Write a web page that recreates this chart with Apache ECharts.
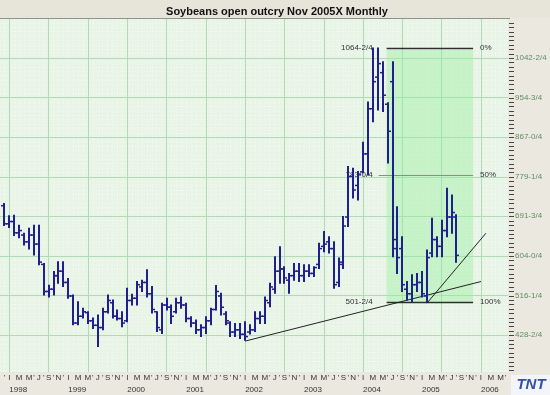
<!DOCTYPE html>
<html><head><meta charset="utf-8">
<script src="https://cdn.jsdelivr.net/npm/echarts@6/dist/echarts.min.js"></script>
<style>html,body{margin:0;padding:0;background:#ebe8df}#c{width:550px;height:395px}</style>
</head><body><div id="c"></div>
<script>
// ---- data ----
const months = ['1997-12',
 '1998-01','1998-02','1998-03','1998-04','1998-05','1998-06','1998-07','1998-08','1998-09','1998-10','1998-11','1998-12',
 '1999-01','1999-02','1999-03','1999-04','1999-05','1999-06','1999-07','1999-08','1999-09','1999-10','1999-11','1999-12',
 '2000-01','2000-02','2000-03','2000-04','2000-05','2000-06','2000-07','2000-08','2000-09','2000-10','2000-11','2000-12',
 '2001-01','2001-02','2001-03','2001-04','2001-05','2001-06','2001-07','2001-08','2001-09','2001-10','2001-11','2001-12',
 '2002-01','2002-02','2002-03','2002-04','2002-05','2002-06','2002-07','2002-08','2002-09','2002-10','2002-11','2002-12',
 '2003-01','2003-02','2003-03','2003-04','2003-05','2003-06','2003-07','2003-08','2003-09','2003-10','2003-11','2003-12',
 '2004-01','2004-02','2004-03','2004-04','2004-05','2004-06','2004-07','2004-08','2004-09','2004-10','2004-11','2004-12',
 '2005-01','2005-02','2005-03','2005-04','2005-05','2005-06','2005-07','2005-08'];
const opens = [715,
 675,680,655,650,635,650,630,585,525,530,560,570,
 545,515,455,470,478,460,450,445,480,500,470,465,
 460,505,510,535,545,520,480,440,495,490,480,500,
 495,465,455,440,445,460,485,515,475,455,435,440,
 430,435,440,465,470,500,530,570,575,550,560,570,
 560,570,565,585,625,635,620,545,590,690,780,760,
 790,830,930,1000,1010,940,990,640,620,530,520,540,
 545,515,610,640,625,660,690,690];
const highs = [720,
 693,694,672,654,665,672,672,587,539,569,591,591,
 554,517,502,488,480,466,473,488,517,506,484,480,
 532,519,547,550,573,536,480,499,510,495,510,513,
 499,469,462,451,469,488,538,521,480,458,454,454,
 458,451,480,480,513,543,602,624,580,565,587,587,
 584,584,580,632,658,646,635,599,691,802,798,791,
 856,945,1064.5,1064.5,1034,943,1034,713,646,547,562,565,
 569,617,687,646,683,754,739,695];
const lows = [671,
 667,649,644,628,619,606,584,517,513,517,543,536,
 510,451,451,466,454,443,403,440,477,466,462,447,
 458,495,495,525,513,477,436,432,484,454,477,488,
 458,447,432,425,432,451,484,473,451,425,425,421,
 417,431,436,454,454,491,521,543,543,521,550,547,
 547,558,558,576,613,610,532,536,576,669,732,728,
 788,783,901,927,924,810,602,565,525,506,501.5,525,
 513,503,602,602,602,646,654,590];
const closes = [675,
 680,655,660,635,650,630,590,525,530,560,570,545,
 515,455,470,480,460,450,445,480,505,470,465,455,
 505,510,540,545,520,485,445,495,490,470,500,495,
 465,455,440,445,460,485,525,490,460,435,440,430,
 425,440,465,470,505,535,570,575,555,560,570,560,
 570,565,578,620,630,620,540,585,670,780,750,785,
 830,930,990,1030,960,880,620,600,540,520,540,545,
 520,600,640,625,660,690,700,605];

const yTickValues = [428.5, 516.25, 604, 691.75, 779.25, 867, 954.75, 1042.5];
const yTickLabels = ['428-2/4','516-1/4','604-0/4','691-3/4','779-1/4','867-0/4','954-3/4','1042-2/4'];
const monthLetters = ['I','','M','','M',"'",'J',"'",'S',"'",'N',"'"];
const yearLabels = ['1998','1999','2000','2001','2002','2003','2004','2005','2006'];

const fibLevels = [1064.5, 783, 501.5];
const fibValueLabels = ['1064-2/4','783-0/4','501-2/4'];
const fibPctLabels = ['0%','50%','100%'];
const fibSpan = [76.8, 94.4];            // month offsets (Jan 1998 = 0)
const trendLow = [['2002-01', 415], ['2006-01', 547]];
const trendSteep = [['2005-02', 499], ['2006-02', 654]];

// ---- helpers ----
function mi(s){ const p = s.split('-'); return (+p[0]-1998)*12 + (+p[1]-1); }
const ohlc = months.map((m,i)=>[mi(m), opens[i], highs[i], lows[i], closes[i]]);
const xMin = -1.9, xMax = 101.5, yMin = 346.5, yMax = 1128.9;
const monthTicks = []; for (let m = -2; m <= 101; m++) monthTicks.push(m);
const gridTicksX = []; for (let m = 0; m <= 96; m += 8) gridTicksX.push(m);
const minorTicksX = monthTicks.filter(m => m % 8 !== 0);
const yearTicks = yearLabels.map((y,i)=>i*12);
const minorY = [], minorYGrid = [];
for (let k = -9; k <= 81; k++) {
  const v = 1042.5 - k*87.75/9;
  if (v > yMin && v < yMax) { minorY.push(+v.toFixed(3)); if (((k%9)+9)%9 !== 0) minorYGrid.push(+v.toFixed(3)); }
}

const chart = echarts.init(document.getElementById('c'), null, {renderer:'canvas'});
const BAR = '#1f1f8e';
const GRIDC = '#b2dab7';
chart.setOption({
  animation:false,
  backgroundColor:'#ebe8df',
  title:{text:'Soybeans open outcry Nov 2005X Monthly', left:272, top:1, textAlign:'center',
    textStyle:{fontFamily:'Liberation Sans', fontSize:11, fontWeight:'bold', color:'#111'}},
  graphic:[
    {type:'rect', shape:{x:0,y:0,width:550,height:18}, style:{fill:'#e7e4da'}, z:-10},
    {type:'line', shape:{x1:0,y1:18.5,x2:510,y2:18.5}, style:{stroke:'#8f948a', lineWidth:1}, z:10},
    {type:'rect', shape:{x:511,y:375,width:39,height:20}, style:{fill:'#f3f5fa'}, z:10},
    {type:'text', x:531, y:385, style:{text:'TNT', align:'center', verticalAlign:'middle',
      font:'italic bold 15px "Liberation Sans"', fill:'#3352a6'}, z:11}
  ],
  grid:{left:0, right:42, top:19, bottom:23, show:true, backgroundColor:'#e8f4e6', borderWidth:0},
  xAxis:[
    {type:'value', min:xMin, max:xMax, gridIndex:0, position:'bottom', z:1,
     axisLine:{show:false}, axisTick:{show:false, customValues:gridTicksX},
     splitLine:{show:true, lineStyle:{color:GRIDC, width:1}},
     axisLabel:{customValues:monthTicks, margin:2, fontSize:8, color:'#333', fontFamily:'Liberation Sans',
       formatter:v=>monthLetters[((v%12)+12)%12]}},
    {type:'value', min:xMin, max:xMax, gridIndex:0, position:'bottom', offset:12,
     axisLine:{show:false}, axisTick:{show:false, customValues:yearTicks}, splitLine:{show:false},
     axisLabel:{customValues:yearTicks, margin:2, fontSize:8, color:'#333', fontFamily:'Liberation Sans', align:'left',
       formatter:v=>yearLabels[Math.round(v/12)]}},
    {type:'value', min:xMin, max:xMax, gridIndex:0, position:'top', z:0,
     axisLine:{show:false}, axisTick:{show:false, customValues:minorTicksX}, axisLabel:{show:false},
     splitLine:{show:true, lineStyle:{color:'#f4f9f2', width:1, type:[1,2]}}}
  ],
  yAxis:[
    {type:'value', min:yMin, max:yMax, position:'right', gridIndex:0, z:0,
     axisLine:{show:false},
     axisTick:{show:false, customValues:minorYGrid},
     splitLine:{show:true, lineStyle:{color:'#f4f9f2', width:1, type:[1,2]}},
     axisLabel:{customValues:yTickValues, margin:7, fontSize:8, color:'#5f8d66', fontFamily:'Liberation Sans',
       formatter:v=>{const i = yTickValues.indexOf(v); return i>=0 ? yTickLabels[i] : '';}}},
    {type:'value', min:yMin, max:yMax, position:'left', gridIndex:0, z:1,
     axisLine:{show:false}, axisLabel:{show:false},
     axisTick:{show:false, customValues:yTickValues},
     splitLine:{show:true, lineStyle:{color:GRIDC, width:1}}}
  ],
  series:[
    {type:'custom', name:'fibBox', xAxisIndex:0, yAxisIndex:0, z:2,
     data:[[fibSpan[0], fibLevels[0], fibSpan[1], fibLevels[2]]],
     renderItem:(p,api)=>{
       const a = api.coord([api.value(0), api.value(1)]);
       const b = api.coord([api.value(2), api.value(3)]);
       return {type:'rect', shape:{x:a[0], y:a[1]+2, width:b[0]-a[0], height:b[1]-a[1]-2},
         style:{fill:'rgba(150,238,160,0.42)'}};
     }},
    {type:'custom', name:'rightTicks', xAxisIndex:0, yAxisIndex:0, z:6, clip:false, silent:true,
     data:minorY.map(v=>[xMax, v]),
     renderItem:(p,api)=>{
       const pt = api.coord([api.value(0), api.value(1)]);
       const y = Math.round(pt[1]) + 0.5;
       return {type:'line', shape:{x1:pt[0]+1, y1:y, x2:pt[0]+6, y2:y}, style:{stroke:'#444', lineWidth:1}};
     }},
    {type:'custom', name:'fib', xAxisIndex:0, yAxisIndex:0, z:3,
     data:fibLevels.map((v,i)=>[v,i]),
     renderItem:(p,api)=>{
       const v = api.value(0), i = api.value(1);
       const a = api.coord([fibSpan[0], v]);
       const b = api.coord([fibSpan[1], v]);
       const mid = i===1;
       return {type:'group', children:[
         {type:'line', shape:{x1:a[0]-(mid?8:0), y1:Math.round(a[1])+0.5, x2:b[0], y2:Math.round(b[1])+0.5},
          style:{stroke: mid?'#8c8c8c':'#2e2e2e', lineWidth: mid?1:1.4}},
         {type:'text', x:a[0]-14, y:a[1], style:{text:fibValueLabels[i], align:'right', verticalAlign:'middle',
          font:'8px "Liberation Sans"', fill:'#333'}},
         {type:'text', x:b[0]+7, y:b[1], style:{text:fibPctLabels[i], align:'left', verticalAlign:'middle',
          font:'8px "Liberation Sans"', fill:'#333'}}
       ]};
     }},
    {type:'line', name:'trendLow', xAxisIndex:0, yAxisIndex:0, z:4, symbol:'none',
     data:trendLow.map(d=>[mi(d[0]), d[1]]), lineStyle:{color:'#222', width:1}},
    {type:'line', name:'trendSteep', xAxisIndex:0, yAxisIndex:0, z:4, symbol:'none',
     data:trendSteep.map(d=>[mi(d[0]), d[1]]), lineStyle:{color:'#222', width:1}},
    {type:'custom', name:'ohlc', xAxisIndex:0, yAxisIndex:0, z:5,
     data:ohlc, encode:{x:0, y:[1,2,3,4]},
     renderItem:(p,api)=>{
       const x = api.value(0);
       const o = api.coord([x, api.value(1)]);
       const h = api.coord([x, api.value(2)]);
       const l = api.coord([x, api.value(3)]);
       const c = api.coord([x, api.value(4)]);
       const cx = Math.round(h[0]);
       return {type:'group', children:[
         {type:'line', shape:{x1:cx, y1:h[1]-0.5, x2:cx, y2:l[1]+0.5}, style:{stroke:BAR, lineWidth:2}},
         {type:'line', shape:{x1:cx-3, y1:o[1], x2:cx, y2:o[1]}, style:{stroke:BAR, lineWidth:1.5}},
         {type:'line', shape:{x1:cx, y1:c[1], x2:cx+3, y2:c[1]}, style:{stroke:BAR, lineWidth:1.5}}
       ]};
     }}
  ]
});
</script></body></html>
